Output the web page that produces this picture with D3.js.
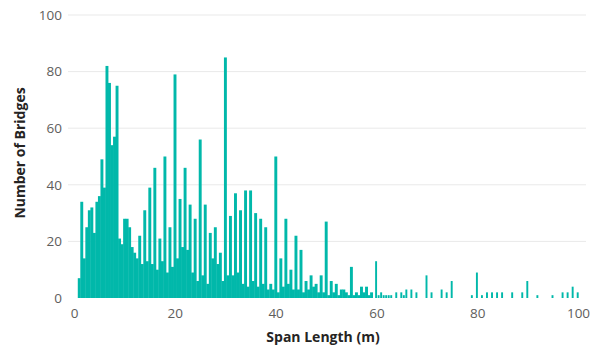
<!DOCTYPE html>
<html>
<head>
<meta charset="utf-8">
<script src="https://cdn.jsdelivr.net/npm/d3@7/dist/d3.min.js"></script>
<style>
  html, body { margin: 0; padding: 0; background: #ffffff; }
  svg { display: block; font-family: "Segoe UI", "Open Sans", "Noto Sans", sans-serif; }
</style>
</head>
<body>
<svg id="chart" width="605" height="349"></svg>
<script>
// Span length (m), 0.5 m bins
const spanLengths = [
  0.5,1,1.5,2,2.5,3,3.5,4,4.5,5,5.5,6,6.5,7,7.5,8,8.5,9,9.5,10,
  10.5,11,11.5,12,12.5,13,13.5,14,14.5,15,15.5,16,16.5,17,17.5,18,18.5,19,19.5,20,
  20.5,21,21.5,22,22.5,23,23.5,24,24.5,25,25.5,26,26.5,27,27.5,28,28.5,29,29.5,30,
  30.5,31,31.5,32,32.5,33,33.5,34,34.5,35,35.5,36,36.5,37,37.5,38,38.5,39,39.5,40,
  40.5,41,41.5,42,42.5,43,43.5,44,44.5,45,45.5,46,46.5,47,47.5,48,48.5,49,49.5,50,
  50.5,51,51.5,52,52.5,53,53.5,54,54.5,55,55.5,56,56.5,57,57.5,58,58.5,59,59.5,60,
  60.5,61,61.5,62,62.5,63,63.5,64,64.5,65,65.5,66,66.5,67,67.5,68,68.5,69,69.5,70,
  70.5,71,71.5,72,72.5,73,73.5,74,74.5,75,75.5,76,76.5,77,77.5,78,78.5,79,79.5,80,
  80.5,81,81.5,82,82.5,83,83.5,84,84.5,85,85.5,86,86.5,87,87.5,88,88.5,89,89.5,90,
  90.5,91,91.5,92,92.5,93,93.5,94,94.5,95,95.5,96,96.5,97,97.5,98,98.5,99,99.5,100
];
// Number of bridges per bin
const bridgeCounts = [
  0,7,34,14,25,31,32,23,34,36,49,39,82,76,54,57,75,21,19,28,
  28,25,18,16,14,22,12,31,13,39,12,46,10,21,13,50,9,25,11,79,
  14,35,18,46,17,33,9,28,6,56,8,33,5,23,14,25,12,16,6,85,
  8,29,8,37,9,31,5,38,4,38,6,30,4,28,5,25,3,5,3,50,
  2,14,4,28,5,10,3,22,3,17,2,6,3,8,4,5,2,8,2,27,
  1,6,2,5,1,3,3,2,1,11,1,2,1,4,2,4,1,2,0,13,
  1,2,1,1,1,1,0,2,0,2,1,3,0,3,0,2,0,0,0,8,
  0,2,0,0,0,3,0,2,0,6,0,0,0,0,0,0,0,1,0,9,
  0,1,0,2,0,2,0,2,0,2,0,0,0,2,0,0,0,2,0,6,
  0,0,0,1,0,0,0,0,0,1,0,0,0,2,0,2,0,4,0,2
];
const xTicks = [0, 20, 40, 60, 80, 100];
const yTicks = [0, 20, 40, 60, 80, 100];

const data = spanLengths.map((s, i) => ({ span: s, count: bridgeCounts[i] }));

const svg = d3.select("#chart");
const x = d3.scaleLinear().domain([0, 100]).range([74, 578]);
const y = d3.scaleLinear().domain([0, 100]).range([298, 15]);
const binW = x(0.5) - x(0);

// gridlines
svg.append("g").selectAll("line")
  .data(yTicks.filter(t => t > 0))
  .join("line")
  .attr("x1", 68).attr("x2", 586)
  .attr("y1", d => y(d)).attr("y2", d => y(d))
  .attr("stroke", "#e9e9e9").attr("stroke-width", 1);

// bars
svg.append("g").selectAll("rect")
  .data(data.filter(d => d.count > 0))
  .join("rect")
  .attr("x", d => x(d.span) - binW / 2)
  .attr("width", d => d.span >= 60 ? binW - 0.6 : binW + 0.4)
  .attr("y", d => y(d.count))
  .attr("height", d => y(0) - y(d.count))
  .attr("fill", "#01B8AA");

// y axis
const yAxis = svg.append("g")
  .attr("transform", "translate(62,0)")
  .call(d3.axisLeft(y).tickValues(yTicks).tickSize(0).tickPadding(0));
yAxis.select(".domain").remove();
yAxis.selectAll("text")
  .attr("fill", "#605E5C")
  .style("font-size", "13.5px")
  .style("font-family", '"Segoe UI", "Open Sans", sans-serif');

// x axis
const xAxis = svg.append("g")
  .attr("transform", "translate(0,308)")
  .call(d3.axisBottom(x).tickValues(xTicks).tickSize(0).tickPadding(0));
xAxis.select(".domain").remove();
xAxis.selectAll("text")
  .attr("fill", "#605E5C")
  .style("font-size", "13.5px")
  .style("font-family", '"Segoe UI", "Open Sans", sans-serif');

// axis titles
svg.append("text")
  .attr("x", 323).attr("y", 342)
  .attr("text-anchor", "middle")
  .attr("fill", "#252423")
  .style("font-size", "14px").style("font-weight", "bold")
  .text("Span Length (m)");

svg.append("text")
  .attr("transform", "translate(25,153) rotate(-90)")
  .attr("text-anchor", "middle")
  .attr("fill", "#252423")
  .style("font-size", "14px").style("font-weight", "bold")
  .text("Number of Bridges");
</script>
</body>
</html>
